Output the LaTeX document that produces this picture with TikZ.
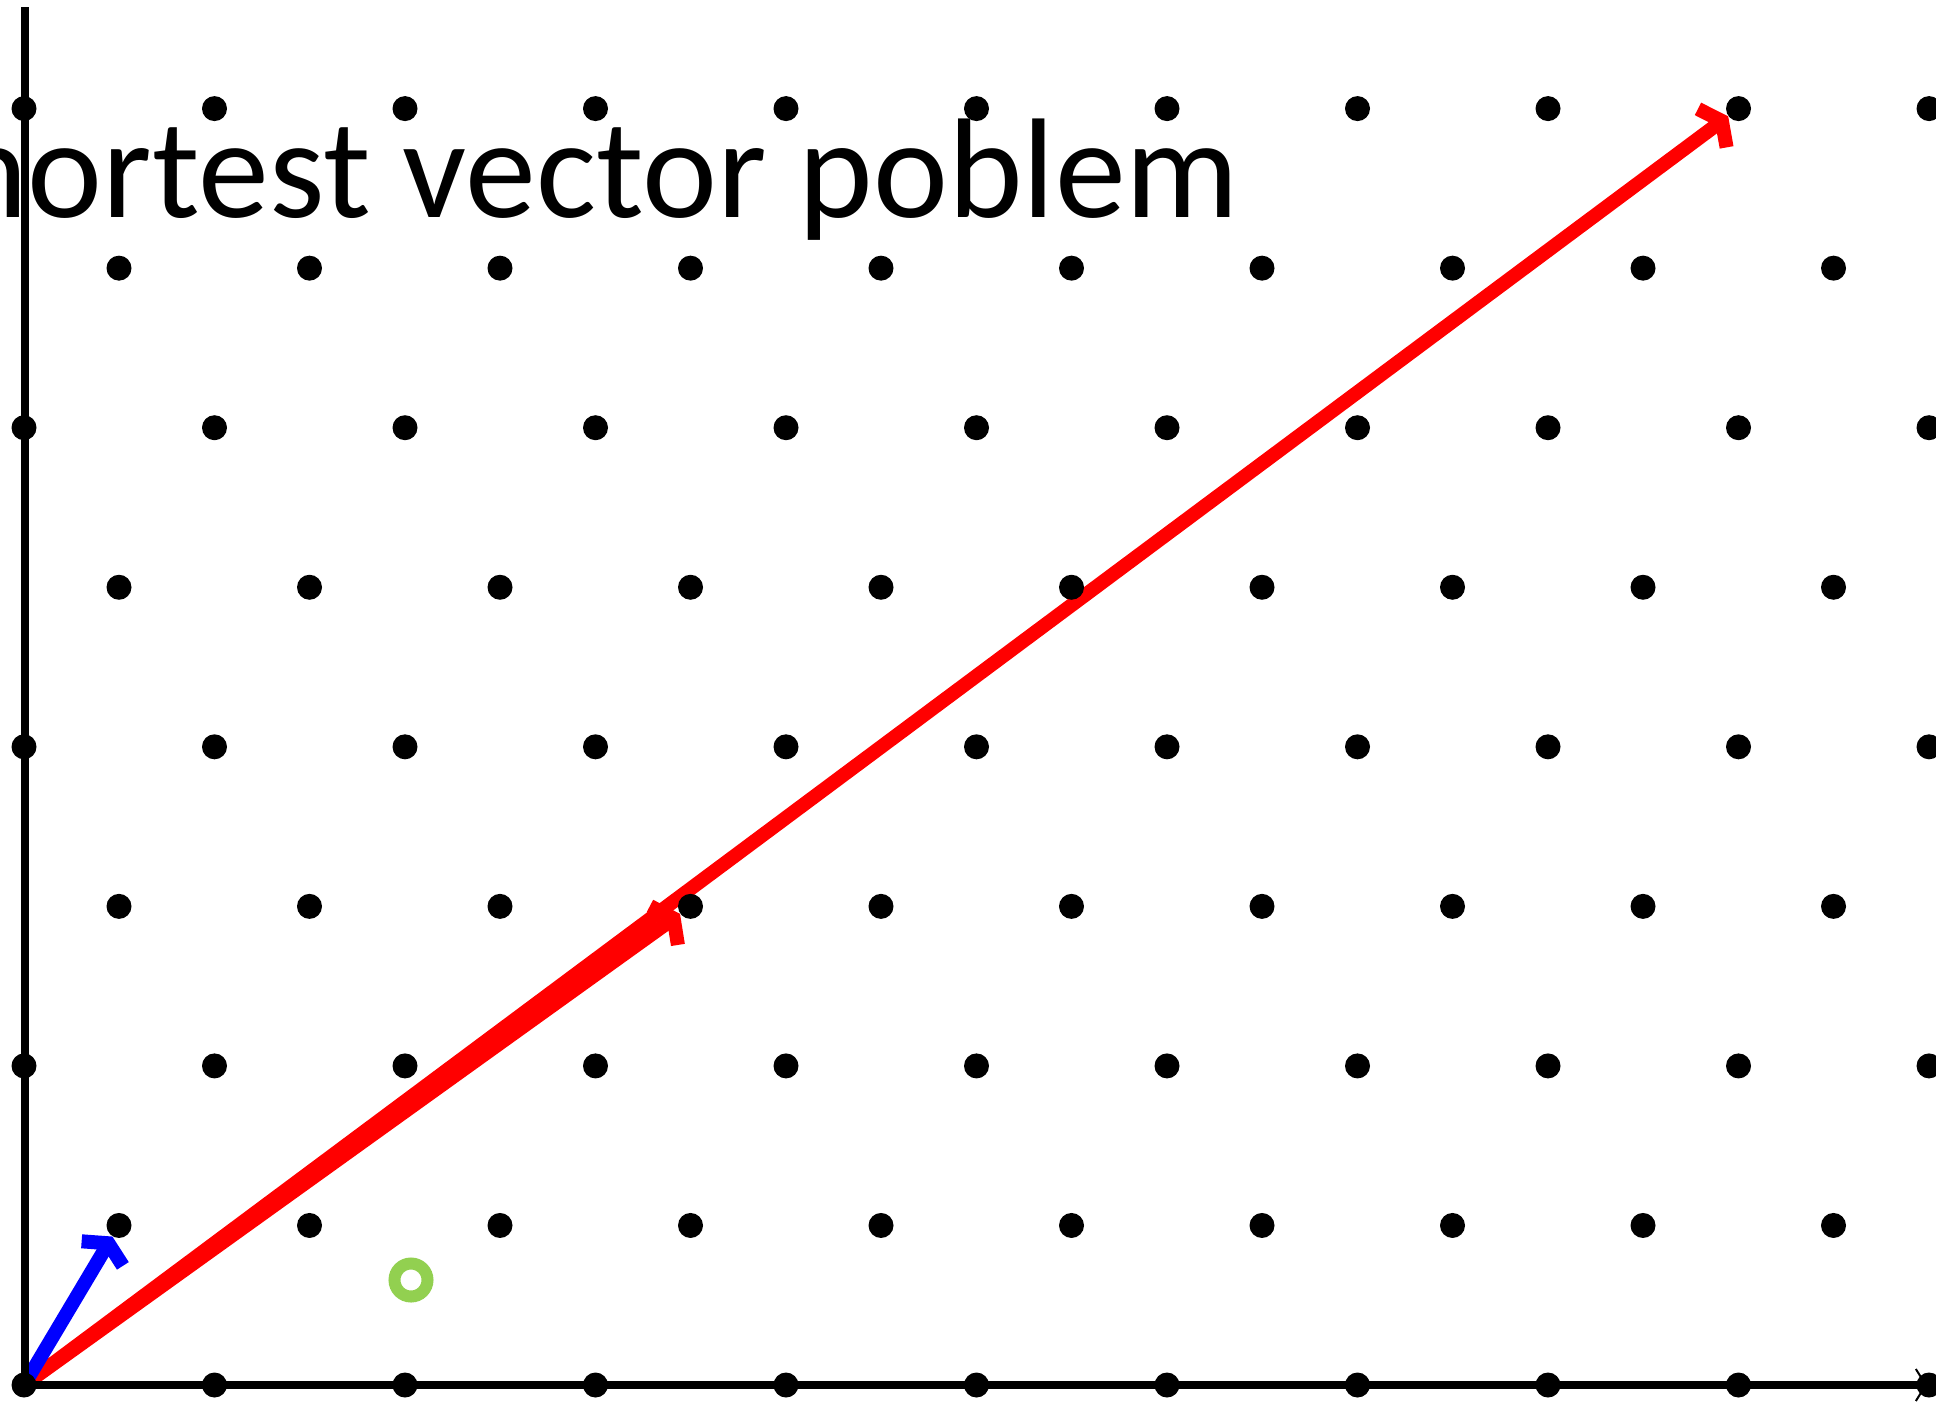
\documentclass[tikz,border=0pt]{standalone}
\usepackage{fontspec}
\setmainfont{Carlito}
\usetikzlibrary{arrows.meta, backgrounds}
\definecolor{ringgreen}{RGB}{146,208,80}
\tikzset{
  x=0.5pt, y=-0.5pt, % one unit is one pixel of the slide
  dot/.style={circle, fill=black, inner sep=0pt, minimum size=12.5pt},
  axis/.style={line width=4pt},
  % arrows of the lattice vectors
  latvec/.style={line width=7pt, -{Straight Barb[length=6pt,width=24pt]}},
  target/.style={circle, draw=ringgreen, line width=6pt, inner sep=0pt,
    minimum size=16.5pt},
}

\begin{document}
\begin{tikzpicture}
    \useasboundingbox (0,0) rectangle (1936,1402);
    \clip (0,0) rectangle (1936,1402);

    \coordinate (axis_top) at (25,7);
    \coordinate (axis_end) at (1927,1385);
    \draw[axis] (25,1385) -- (axis_top);
    \draw[axis, -{Straight Barb[length=5pt,width=16pt,line width=1pt]}]
    (25,1385) -- (axis_end);

    % the lattice, rows from the bottom
    \foreach \r in {0,2,4,6,8}
      \foreach \c in {0,...,10}
        \node[dot] (pt_\r_\c) at ({24+\c*190.5},{1385-\r*159.55}) {};
    \foreach \r in {1,3,5,7}
      \foreach \c in {0,...,9}
        \node[dot] (pt_\r_\c) at ({119+\c*190.5},{1385-\r*159.55}) {};

    \begin{scope}[on background layer]
      \draw[latvec, red] (pt_0_0.center) -- (pt_8_9);
      \draw[latvec, red] (pt_0_0.center) -- (pt_3_3);
      \draw[latvec, blue] (pt_0_0.center) -- (pt_1_0);
    \end{scope}

    \node[target] (ring) at (411,1280) {};

    \node[anchor=base east, inner sep=0pt, font=\fontsize{71}{76}\selectfont]
    (title) at (1240,217) {Shortest vector poblem};
\end{tikzpicture}
\end{document}
